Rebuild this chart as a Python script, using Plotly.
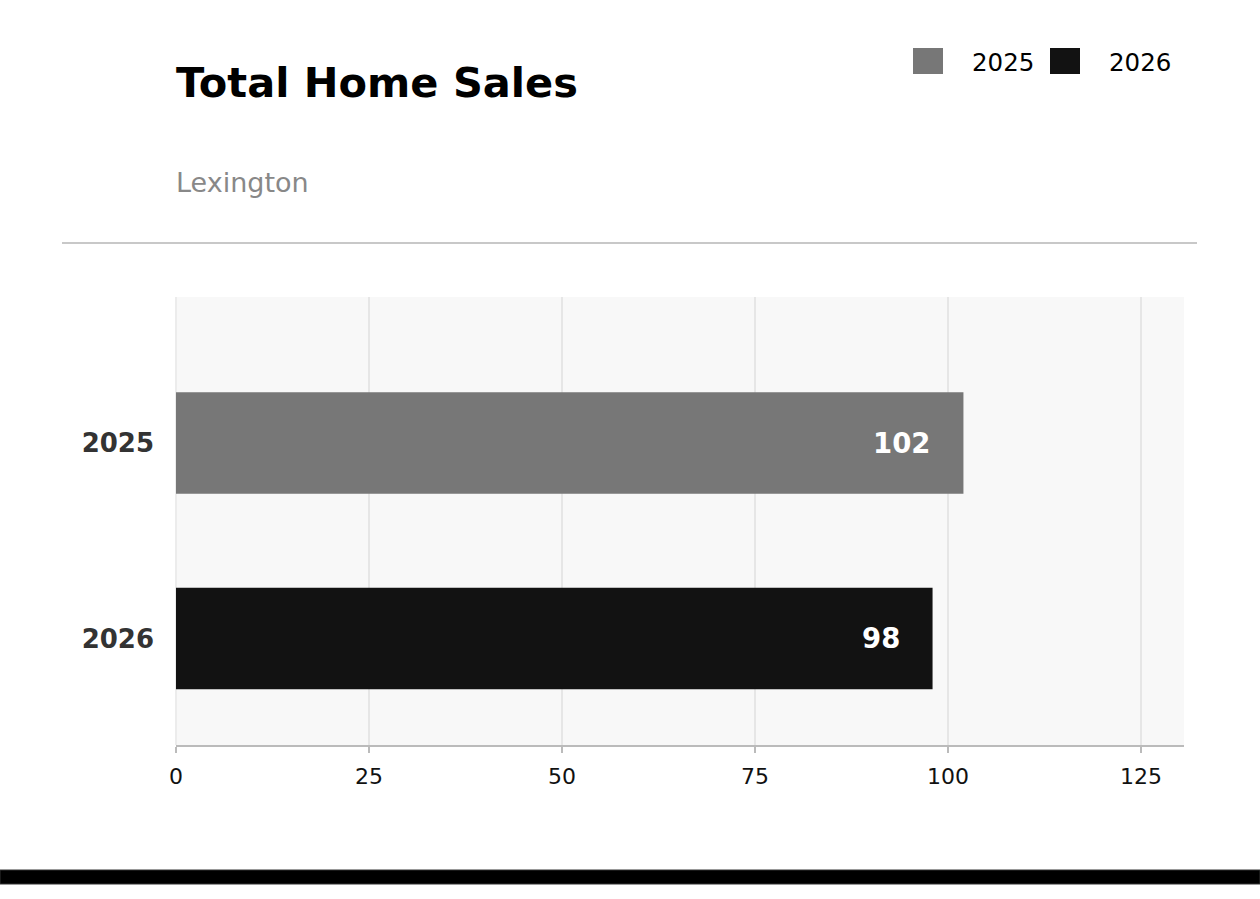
import plotly.graph_objects as go

# ---- data ----
categories = ["2025", "2026"]
sales = [102, 98]
series_colors = ["#777777", "#121212"]
title_text = "Total Home Sales"
subtitle_text = "Lexington"
x_ticks = [0, 25, 50, 75, 100, 125]

FONT = "DejaVu Sans"
PL, PT, PW, PH = 176, 297, 1008, 448  # plot area in pixels


def px_x(px):
    return (px - PL) / PW


def px_y(py):
    return (PT + PH - py) / PH


fig = go.Figure()
for cat, val, col in zip(categories, sales, series_colors):
    fig.add_trace(go.Bar(
        y=[cat], x=[val], name=cat, orientation="h",
        marker=dict(color=col, line=dict(width=0)),
        width=0.52,
        showlegend=False,
        hoverinfo="x+y",
    ))

shapes = [
    # separator rule under header
    dict(type="line", xref="paper", yref="paper",
         x0=px_x(62), x1=px_x(1197), y0=px_y(243), y1=px_y(243),
         line=dict(color="#c8c8c8", width=2)),
    # bottom footer bar
    dict(type="rect", xref="paper", yref="paper",
         x0=px_x(0), x1=px_x(1260), y0=px_y(884), y1=px_y(870),
         fillcolor="#000000", line=dict(color="#333333", width=1)),
]

annotations = [
    dict(text="<b>" + title_text + "</b>", xref="paper", yref="paper",
         x=0, y=px_y(82), xanchor="left", yanchor="middle", xshift=-2,
         showarrow=False, font=dict(family=FONT, size=41.5, color="#000000")),
    dict(text=subtitle_text, xref="paper", yref="paper",
         x=0, y=px_y(183), xanchor="left", yanchor="middle", xshift=-2,
         showarrow=False, font=dict(family=FONT, size=27, color="#888888")),
]

# value labels inside bar ends (y given as category index)
for i, val in enumerate(sales):
    annotations.append(dict(text="<b>%d</b>" % val, x=val, y=i,
                            xref="x", yref="y", xanchor="right", yanchor="middle",
                            xshift=-31, showarrow=False,
                            font=dict(family=FONT, size=27.5, color="white")))

# custom legend (larger swatches than plotly's built-in legend)
legend_x = [913, 1050]
for cat, col, lx in zip(categories, series_colors, legend_x):
    shapes.append(dict(type="rect", xref="paper", yref="paper",
                       x0=px_x(lx), x1=px_x(lx + 30),
                       y0=px_y(74), y1=px_y(48),
                       fillcolor=col, line=dict(width=0)))
    annotations.append(dict(text=cat, xref="paper", yref="paper",
                            x=px_x(lx + 57), y=px_y(62),
                            xanchor="left", yanchor="middle", showarrow=False,
                            font=dict(family=FONT, size=24.5, color="#000000")))

fig.update_layout(
    width=1260, height=899,
    margin=dict(l=PL, r=1260 - PL - PW, t=PT, b=899 - PT - PH),
    paper_bgcolor="white", plot_bgcolor="#f8f8f8",
    barmode="overlay",
    shapes=shapes, annotations=annotations,
    showlegend=False,
    font=dict(family=FONT),
)
fig.update_xaxes(
    range=[0, 130.57], tickvals=x_ticks,
    showgrid=True, gridcolor="#e6e6e6", gridwidth=1.5,
    zeroline=True, zerolinecolor="#ececec", zerolinewidth=1.5,
    showline=True, linecolor="#bbbbbb", linewidth=2,
    ticks="outside", ticklen=6, tickcolor="#bbbbbb", tickwidth=1.5,
    ticklabelstandoff=5,
    tickfont=dict(family=FONT, size=22, color="#111111"),
    fixedrange=True,
)
fig.update_yaxes(
    type="category", categoryorder="array", categoryarray=categories,
    range=[1.545, -0.747],
    showgrid=False, zeroline=False, showline=False,
    ticks="", ticklabelstandoff=21,
    tickfont=dict(family=FONT, size=26, color="#333333", weight="bold"),
    fixedrange=True,
)

fig.write_html("out.html")
